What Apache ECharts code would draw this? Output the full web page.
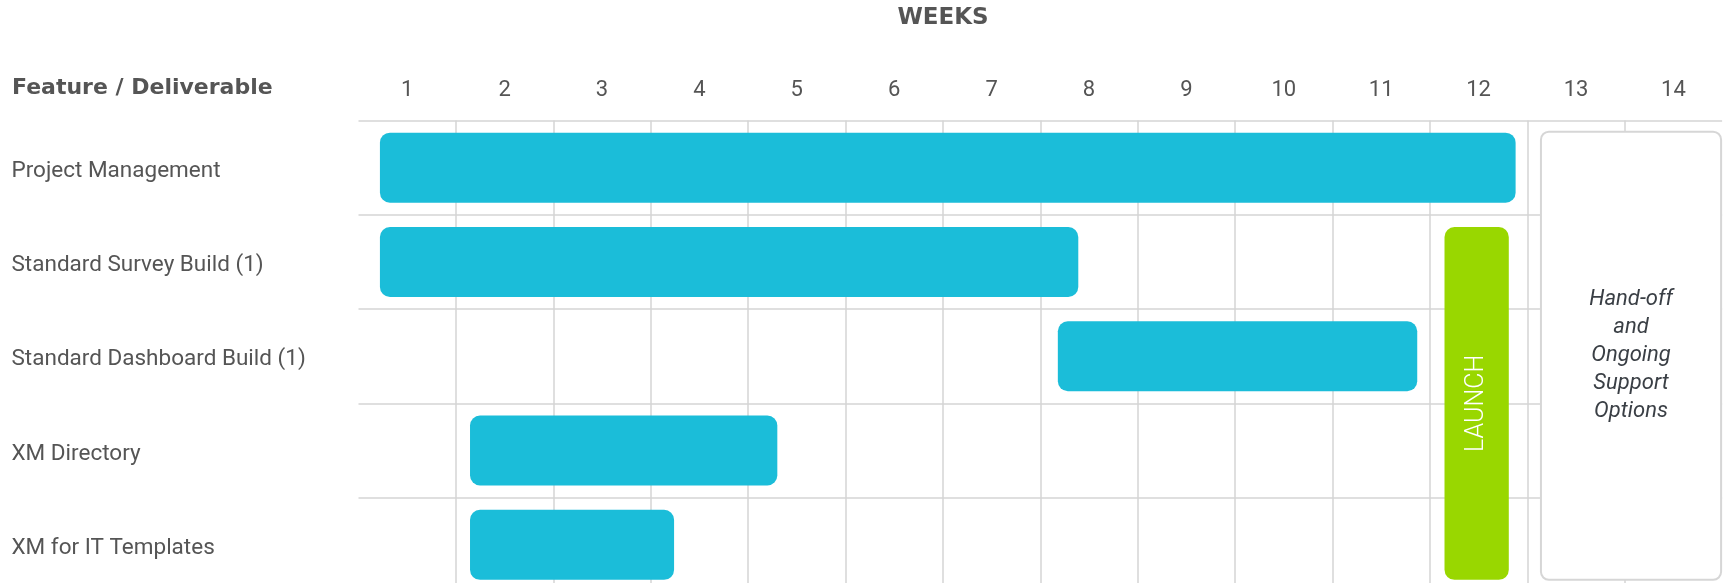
<!DOCTYPE html>
<html>
<head>
<meta charset="utf-8">
<title>Project timeline</title>
<script src="https://cdn.jsdelivr.net/npm/echarts@6/dist/echarts.min.js"></script>
<style>
  html, body { margin: 0; padding: 0; background: #fff; }
  #timeline { width: 1723px; height: 583px; }
</style>
</head>
<body>
<div id="timeline"></div>
<script>
// rows of the plan, top to bottom
var features = ['Project Management', 'Standard Survey Build (1)', 'Standard Dashboard Build (1)', 'XM Directory', 'XM for IT Templates'];
var weeks = ['1', '2', '3', '4', '5', '6', '7', '8', '9', '10', '11', '12', '13', '14'];
// start / end in weeks (week k covers k-1 .. k)
var taskStart = [0.22, 0.22, 7.18, 1.145, 1.145];
var taskEnd = [11.88, 7.39, 10.87, 4.30, 3.24];
// launch and hand-off blocks: first row, last row, start, end
var launchBlock = [1, 4, 11.15, 11.81];
var supportBlock = [0, 4, 12.14, 14.0];
var launchText = 'LAUNCH';
var supportText = 'Hand-off\nand\nOngoing\nSupport\nOptions';

var textColor = '#555555';
var lineColor = '#d4d4d4';
var barHalf = 35;

var taskData = [];
for (var i = 0; i < features.length; i++) {
	taskData.push([i, taskStart[i], taskEnd[i]]);
}

function renderTask(params, api) {
	var row = api.value(0);
	var p0 = api.coord([api.value(1), row]);
	var p1 = api.coord([api.value(2), row]);
	return {
		type: 'rect',
		shape: { x: p0[0], y: p0[1] - barHalf, width: p1[0] - p0[0], height: barHalf * 2, r: 10 },
		style: { fill: '#1bbdd9' }
	};
}

function renderLaunch(params, api) {
	var top = api.coord([api.value(2), api.value(0)]);
	var bot = api.coord([api.value(3), api.value(1)]);
	var x = top[0], y = top[1] - barHalf;
	var w = bot[0] - top[0], h = bot[1] + barHalf - y;
	return {
		type: 'group',
		children: [{
			type: 'rect',
			shape: { x: x, y: y, width: w, height: h, r: 10 },
			style: { fill: '#99d700' }
		}, {
			type: 'text',
			x: x + w / 2,
			y: y + h / 2,
			rotation: Math.PI / 2,
			style: {
				text: launchText,
				fill: '#ffffff',
				font: '300 25px Roboto',
				align: 'center',
				verticalAlign: 'middle'
			}
		}]
	};
}

function renderSupport(params, api) {
	var top = api.coord([api.value(2), api.value(0)]);
	var bot = api.coord([api.value(3), api.value(1)]);
	var x = top[0], y = top[1] - barHalf - 1;
	var w = bot[0] - top[0] - 1, h = bot[1] + barHalf - y;
	return {
		type: 'group',
		children: [{
			type: 'rect',
			shape: { x: x, y: y, width: w, height: h, r: 8 },
			style: { fill: '#ffffff', stroke: '#d6d6d6', lineWidth: 2 }
		}, {
			type: 'text',
			x: x + w / 2,
			y: y + h / 2,
			style: {
				text: supportText,
				fill: '#3a3f45',
				font: 'italic 22px Roboto',
				lineHeight: 28,
				align: 'center',
				verticalAlign: 'middle'
			}
		}]
	};
}

var option = {
	animation: false,
	backgroundColor: '#ffffff',
	grid: { left: 358.5, top: 120.5, width: 1363.6, height: 471.5, outerBoundsMode: 'none' },
	graphic: [{
		type: 'text',
		x: 943,
		y: 18,
		style: { text: 'WEEKS', fill: textColor, font: 'bold 23px "DejaVu Sans"', align: 'center', verticalAlign: 'middle' }
	}, {
		type: 'text',
		x: 12,
		y: 88,
		style: { text: 'Feature / Deliverable', fill: textColor, font: 'bold 22px "DejaVu Sans"', verticalAlign: 'middle' }
	}],
	xAxis: [{
		type: 'value',
		min: 0,
		max: 14,
		interval: 1,
		axisLine: { show: false },
		axisTick: { show: false },
		axisLabel: { show: false },
		splitLine: {
			show: true,
			showMinLine: false,
			showMaxLine: false,
			lineStyle: { color: lineColor, width: 1.5 }
		}
	}, {
		type: 'category',
		position: 'top',
		data: weeks,
		axisLine: { show: false },
		axisTick: { show: false },
		splitLine: { show: false },
		axisLabel: { color: textColor, fontSize: 22, fontFamily: 'Roboto', margin: 19 }
	}],
	yAxis: {
		type: 'category',
		inverse: true,
		data: features,
		axisLine: { show: false },
		axisTick: { show: false },
		axisLabel: {
			align: 'left',
			margin: 347,
			formatter: '{f|{value}}',
			rich: {
				f: {
					color: textColor,
					fontSize: 22.5,
					fontFamily: 'Roboto',
					padding: [7, 0, 0, 0]
				}
			}
		},
		splitLine: { show: true, lineStyle: { color: lineColor, width: 1.5 } }
	},
	series: [{
		type: 'custom',
		name: 'tasks',
		renderItem: renderTask,
		encode: { x: [1, 2], y: 0 },
		data: taskData
	}, {
		type: 'custom',
		name: 'launch',
		renderItem: renderLaunch,
		encode: { x: [2, 3], y: [0, 1] },
		data: [launchBlock]
	}, {
		type: 'custom',
		name: 'support',
		renderItem: renderSupport,
		encode: { x: [2, 3], y: [0, 1] },
		data: [supportBlock]
	}]
};

var chart = echarts.init(document.getElementById('timeline'));
chart.setOption(option);
</script>
</body>
</html>
